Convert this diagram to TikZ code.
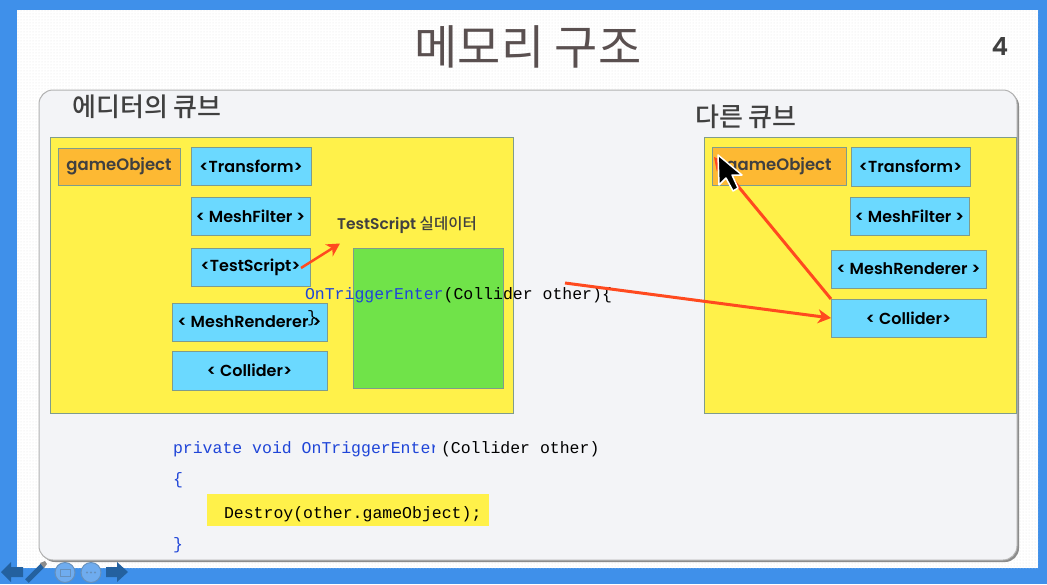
\documentclass[tikz,border=0pt]{standalone}
\usepackage{fontspec}
\usepackage{xcolor}
\usetikzlibrary{arrows.meta}
\usetikzlibrary{patterns}
\newfontfamily\korfont{Noto Sans CJK KR}
\newfontfamily\kormedium{Noto Sans CJK KR Medium}
\newfontfamily\boxfont{Poppins SemiBold}
\newfontfamily\codefont{Liberation Mono}
\setmainfont{Poppins}
\definecolor{slideblue}{HTML}{3F90EA}
\definecolor{navblue}{HTML}{24619F}
\definecolor{panelgray}{HTML}{F3F4F7}
\definecolor{cubeyellow}{HTML}{FFF14A}
\definecolor{compblue}{HTML}{6BD9FF}
\definecolor{objorange}{HTML}{FDB933}
\definecolor{scriptgreen}{HTML}{70E349}
\definecolor{edgegray}{HTML}{7F9C8C}
\definecolor{arrowred}{HTML}{FF4A1F}
\definecolor{codeblue}{HTML}{1F45D8}
\definecolor{titlegray}{HTML}{5A5050}

\begin{document}
\begin{tikzpicture}[
  x=1pt, y=-1pt,
  every node/.style={inner sep=0pt, outer sep=0pt},
  cubebox/.style={draw=edgegray, line width=1pt, fill=cubeyellow},
  comp/.style={draw=edgegray, line width=1pt, fill=compblue, text=black, font=\boxfont\fontsize{16}{19}\selectfont},
  objbox/.style={draw=edgegray, line width=1pt, fill=objorange, text=black!75, font=\boxfont\fontsize{16.5}{19}\selectfont},
  heading/.style={text=black!75, font=\kormedium\fontsize{26}{30}\selectfont},
  code/.style={anchor=base west, font=\codefont\fontsize{16.5}{20}\selectfont},
  redarrow/.style={-{Stealth[length=13pt, width=14pt, inset=4pt]}, draw=arrowred, line width=3pt}
]
\useasboundingbox (0,0) rectangle (1047,584);
\fill[slideblue] (0,0) rectangle (1047,584);
\fill[white] (17,10) rectangle (1038,568);
\fill[pattern=dots, pattern color=black!10] (17,10) rectangle (1038,568);

% panel and cubes
\node[fill=black!45, rounded corners=14pt, minimum width=978pt, minimum height=470pt] (panelshadow) at (530,327) {};
\node[draw=black!30, line width=1pt, fill=panelgray, rounded corners=14pt, minimum width=978pt, minimum height=470pt] (panel) at (528,325) {};

\node[cubebox, minimum width=463pt, minimum height=276pt] (editorcube) at (281.5,275) {};
\node[cubebox, minimum width=312pt, minimum height=276pt] (othercube) at (860,275) {};

\node[text=titlegray, font=\korfont\fontsize{47}{54}\selectfont] (title) at (528,47) {메모리 구조};
\node[text=black!75, font=\boxfont\fontsize{25}{30}\selectfont] (pagenum) at (1000,46) {4};
\node[heading] (editorhead) at (147,107) {에디터의 큐브};
\node[heading] (otherhead) at (746,117) {다른 큐브};

% left cube
\node[objbox, minimum width=122pt, minimum height=37pt] (gameobj) at (119,166.5) {gameObject};
\node[comp, minimum width=120pt, minimum height=38pt] (transform) at (251,166.5) {<Transform>};
\node[comp, minimum width=119pt, minimum height=38pt] (meshfilter) at (250.5,216) {< MeshFilter >};
\node[comp, minimum width=119pt, minimum height=38pt] (testscript) at (250.5,267) {<TestScript>};
\node[comp, minimum width=155pt, minimum height=38pt] (meshrender) at (249.5,322) {< MeshRenderer >};
\node[comp, minimum width=155pt, minimum height=39pt] (collider) at (249.5,370.5) {< Collider>};
\node[draw=edgegray, line width=1pt, fill=scriptgreen, minimum width=150pt, minimum height=140pt] (instance) at (428,318) {};
\node[text=black!75, font=\boxfont\fontsize{15.5}{18}\selectfont] (instancelabel) at (407,225) {TestScript {\kormedium 실데이터}};

% right cube
\node[objbox, minimum width=134pt, minimum height=38pt] (gameobjb) at (779,166) {gameObject};
\node[comp, minimum width=119pt, minimum height=39pt] (transformb) at (910.5,166.5) {<Transform>};
\node[comp, minimum width=119pt, minimum height=38pt] (meshfilterb) at (909.5,216) {< MeshFilter >};
\node[comp, minimum width=155pt, minimum height=38pt] (meshrenderb) at (908.5,269) {< MeshRenderer >};
\node[comp, minimum width=155pt, minimum height=38pt] (colliderb) at (908.5,318) {< Collider>};

% code
\node[code] (handler) at (305,299) {\textcolor{codeblue}{OnTriggerEnter}(Collider other)\{};
\node[code] (handlerend) at (307,322) {\}};
\node[code, text=codeblue] (sigleft) at (173,453) {private void OnTriggerEnter};
\node[fill=panelgray, minimum width=6pt, minimum height=26pt] (sigcover) at (438,447) {};
\node[code] (sigright) at (441,453) {(Collider other)};
\node[code, text=codeblue] (bodyopen) at (173,484) {\{};
\node[fill=cubeyellow, minimum width=282pt, minimum height=32pt] (highlight) at (348,510) {};
\node[code] (destroy) at (224,518) {Destroy(other.gameObject);};
\node[code, text=codeblue] (bodyclose) at (173,549) {\}};

% connectors
\coordinate (hitstart) at (565,283);
\draw[redarrow, line width=2.5pt] ([shift={(-9,1)}]testscript.east) -- ([shift={(-67,10)}]instancelabel.south);
\draw[redarrow] (hitstart) -- (colliderb.west);
\draw[redarrow] (colliderb.north west) -- ([shift={(2,10)}]gameobjb.north west);

% mouse cursor
\draw[white, line width=1.5pt, fill=black, line join=round] (718,155) -- (719,185) -- (726,178) -- (733,191) -- (738,188) -- (732,175) -- (742,175) -- cycle;

% slide navigation
\fill[navblue] (1,572) -- (11,562) -- (11,567) -- (23,567) -- (23,577) -- (11,577) -- (11,582) -- cycle;
\draw[navblue, line width=5pt] (27,581) -- (43,565);
\fill[black!45] (40,563) -- (45,561) -- (47,564) -- (44,568) -- cycle;
\draw[navblue!70!white, line width=1pt, fill=slideblue!75!white] (65,572.5) circle (10pt);
\draw[navblue!70!white, line width=1pt] (60,569) rectangle (70,576);
\draw[navblue!70!white, line width=1pt, fill=slideblue!75!white] (91,572.5) circle (10pt);
\fill[navblue!70!white] (87,572.5) circle (1.2pt) (91,572.5) circle (1.2pt) (95,572.5) circle (1.2pt);
\fill[navblue] (128,572) -- (117,562) -- (117,567) -- (106,567) -- (106,577) -- (117,577) -- (117,582) -- cycle;
\end{tikzpicture}
\end{document}
